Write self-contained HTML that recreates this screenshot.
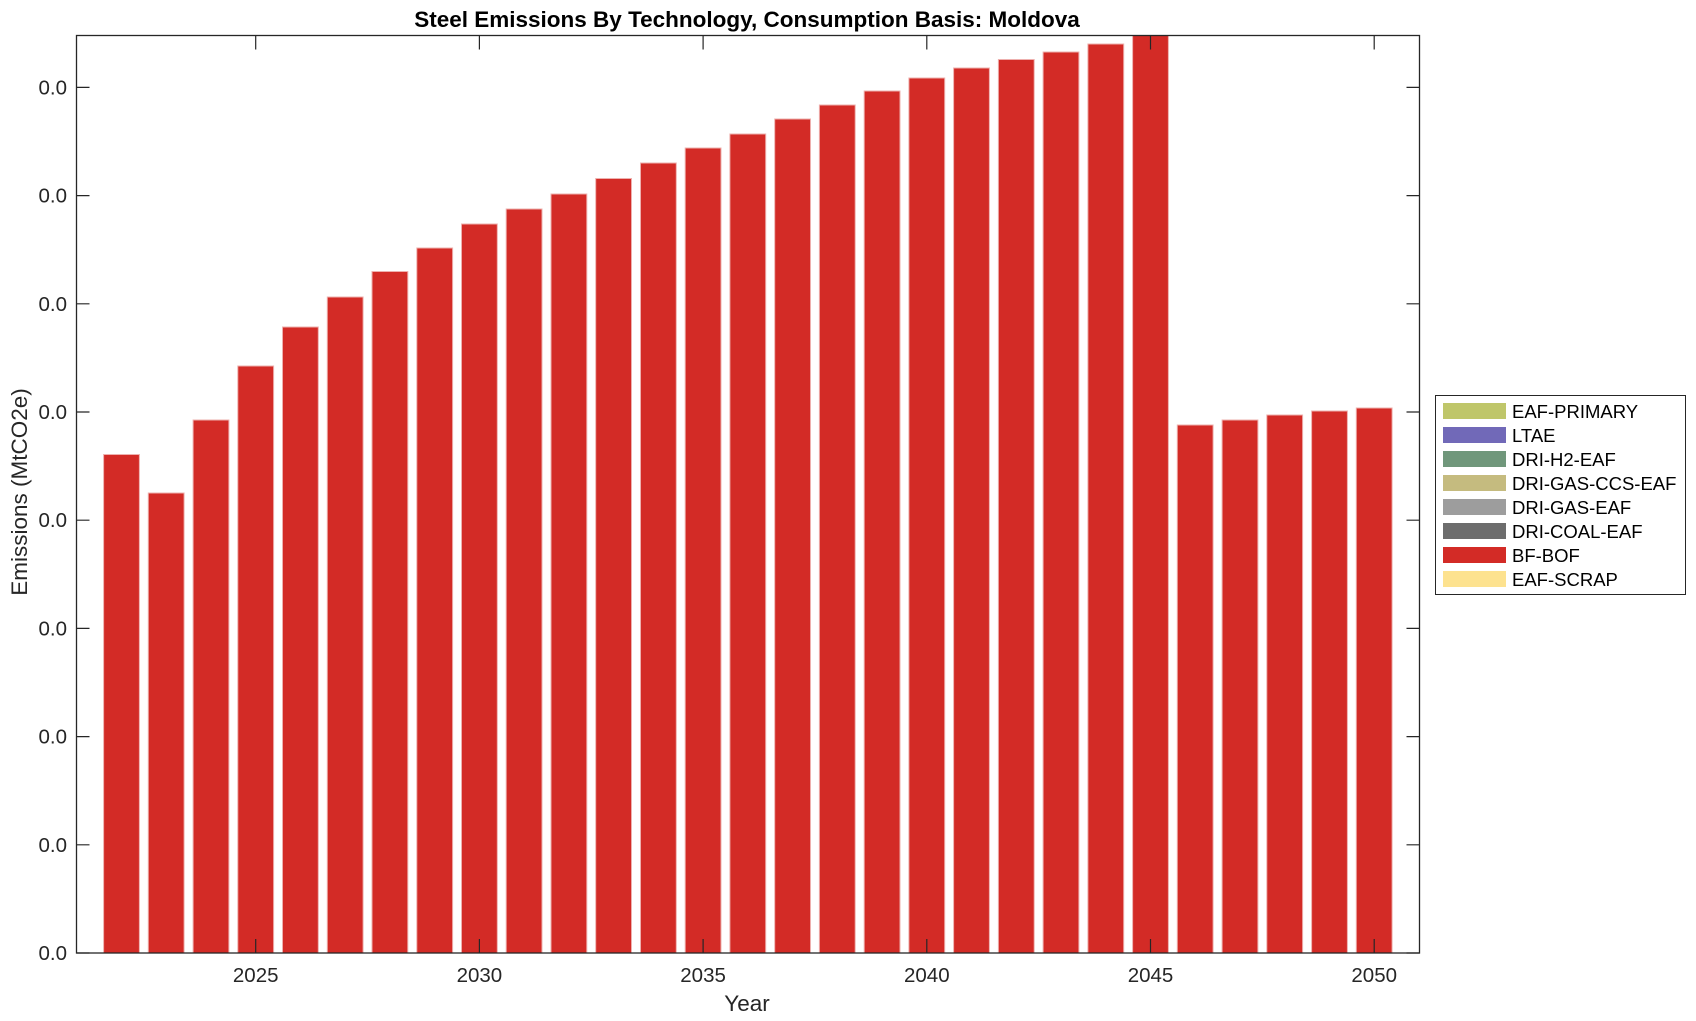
<!DOCTYPE html>
<html><head><meta charset="utf-8"><style>html,body{margin:0;padding:0;background:#fff}svg{display:block}</style></head>
<body>
<svg width="1696" height="1021" xmlns="http://www.w3.org/2000/svg" font-family="Liberation Sans, Arial, sans-serif">
<rect width="1696" height="1021" fill="#fff"/>
<g fill="#d32b26" stroke="#eeb0ae" stroke-width="1">
<rect x="103.6" y="454.5" width="35.8" height="498.5"/>
<rect x="148.3" y="493" width="35.8" height="460"/>
<rect x="193.1" y="420" width="35.8" height="533"/>
<rect x="237.8" y="366" width="35.8" height="587"/>
<rect x="282.5" y="327" width="35.8" height="626"/>
<rect x="327.3" y="297" width="35.8" height="656"/>
<rect x="372.0" y="271.5" width="35.8" height="681.5"/>
<rect x="416.8" y="248" width="35.8" height="705"/>
<rect x="461.5" y="224" width="35.8" height="729"/>
<rect x="506.2" y="209" width="35.8" height="744"/>
<rect x="551.0" y="194" width="35.8" height="759"/>
<rect x="595.7" y="178.5" width="35.8" height="774.5"/>
<rect x="640.5" y="163" width="35.8" height="790"/>
<rect x="685.2" y="148" width="35.8" height="805"/>
<rect x="729.9" y="134" width="35.8" height="819"/>
<rect x="774.7" y="119" width="35.8" height="834"/>
<rect x="819.4" y="105" width="35.8" height="848"/>
<rect x="864.2" y="91" width="35.8" height="862"/>
<rect x="908.9" y="78" width="35.8" height="875"/>
<rect x="953.6" y="68" width="35.8" height="885"/>
<rect x="998.4" y="59.5" width="35.8" height="893.5"/>
<rect x="1043.1" y="52" width="35.8" height="901"/>
<rect x="1087.9" y="44" width="35.8" height="909"/>
<rect x="1132.6" y="35.5" width="35.8" height="917.5"/>
<rect x="1177.3" y="425" width="35.8" height="528"/>
<rect x="1222.1" y="420" width="35.8" height="533"/>
<rect x="1266.8" y="415" width="35.8" height="538"/>
<rect x="1311.6" y="411" width="35.8" height="542"/>
<rect x="1356.3" y="408" width="35.8" height="545"/>
</g>
<rect x="76.5" y="35.5" width="1343" height="917.5" fill="none" stroke="#262626" stroke-width="1.3"/>
<g stroke="#262626" stroke-width="1.2">
<path d="M255.7 953v-14M479.4 953v-14M703.1 953v-14M926.8 953v-14M1150.5 953v-14M1374.2 953v-14"/>
<path d="M255.7 35.5v14M479.4 35.5v14M703.1 35.5v14M926.8 35.5v14M1150.5 35.5v14M1374.2 35.5v14"/>
<path d="M76.5 953h13M76.5 844.8h13M76.5 736.6h13M76.5 628.4h13M76.5 520.2h13M76.5 412h13M76.5 303.8h13M76.5 195.6h13M76.5 87.4h13"/>
<path d="M1419.5 953h-13M1419.5 844.8h-13M1419.5 736.6h-13M1419.5 628.4h-13M1419.5 520.2h-13M1419.5 412h-13M1419.5 303.8h-13M1419.5 195.6h-13M1419.5 87.4h-13"/>
</g>
<g fill="#262626" font-size="20.5" text-anchor="middle">
<text x="255.7" y="982">2025</text><text x="479.4" y="982">2030</text><text x="703.1" y="982">2035</text>
<text x="926.8" y="982">2040</text><text x="1150.5" y="982">2045</text><text x="1374.2" y="982">2050</text>
</g>
<g fill="#262626" font-size="20.5" text-anchor="end">
<text x="67" y="960">0.0</text><text x="67" y="851.8">0.0</text><text x="67" y="743.6">0.0</text>
<text x="67" y="635.4">0.0</text><text x="67" y="527.2">0.0</text><text x="67" y="419">0.0</text>
<text x="67" y="310.8">0.0</text><text x="67" y="202.6">0.0</text><text x="67" y="94.4">0.0</text>
</g>
<text x="747" y="27" text-anchor="middle" font-weight="bold" font-size="22.5" fill="#000">Steel Emissions By Technology, Consumption Basis: Moldova</text>
<text x="747" y="1011" text-anchor="middle" font-size="22.5" fill="#262626">Year</text>
<text transform="translate(27,492) rotate(-90)" text-anchor="middle" font-size="22.5" fill="#262626">Emissions (MtCO2e)</text>
<rect x="1435.5" y="395.5" width="250" height="199" fill="#fff" stroke="#262626" stroke-width="1"/>
<g>
<rect x="1443" y="403" width="63" height="16" fill="#bfc66a"/>
<rect x="1443" y="427" width="63" height="16" fill="#7169b8"/>
<rect x="1443" y="451" width="63" height="16" fill="#70977b"/>
<rect x="1443" y="475" width="63" height="16" fill="#c5bb7f"/>
<rect x="1443" y="499" width="63" height="16" fill="#9d9d9d"/>
<rect x="1443" y="523" width="63" height="16" fill="#6d6d6d"/>
<rect x="1443" y="547" width="63" height="16" fill="#d32b26"/>
<rect x="1443" y="571" width="63" height="16" fill="#fde28f"/>
</g>
<g font-size="18.5" fill="#000">
<text x="1512" y="418">EAF-PRIMARY</text>
<text x="1512" y="442">LTAE</text>
<text x="1512" y="466">DRI-H2-EAF</text>
<text x="1512" y="490">DRI-GAS-CCS-EAF</text>
<text x="1512" y="514">DRI-GAS-EAF</text>
<text x="1512" y="538">DRI-COAL-EAF</text>
<text x="1512" y="562">BF-BOF</text>
<text x="1512" y="586">EAF-SCRAP</text>
</g>
</svg>
</body></html>
